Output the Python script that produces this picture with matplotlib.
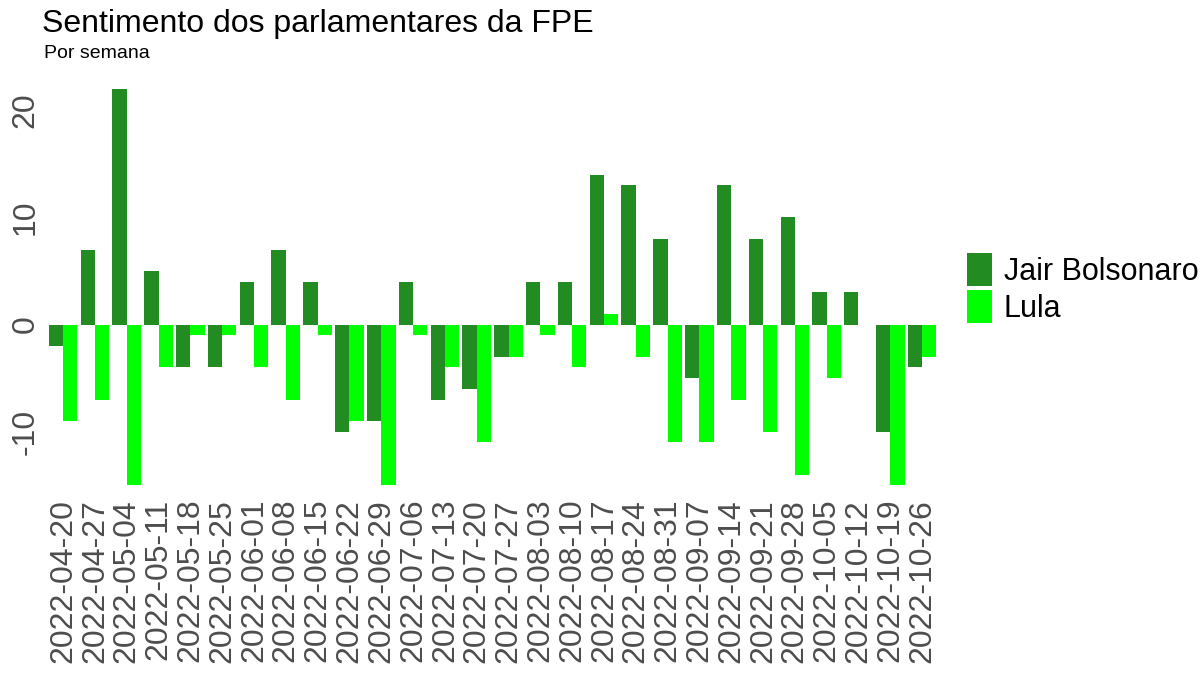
import matplotlib
matplotlib.use("Agg")
import matplotlib.pyplot as plt
import numpy as np
import pandas as pd

plt.rcParams['font.family'] = ['Liberation Sans', 'DejaVu Sans']

weeks = [str(d.date()) for d in pd.date_range("2022-04-20", "2022-10-26", freq="7D")]
bolsonaro = [-2, 7, 22, 5, -4, -4, 4, 7, 4, -10, -9, 4, -7, -6, -3, 4, 4, 14, 13, 8, -5, 13, 8, 10, 3, 3, -10, -4]
lula = [-9, -7, -15, -4, -1, -1, -4, -7, -1, -9, -15, -1, -4, -11, -3, -1, -4, 1, -3, -11, -11, -7, -10, -14, -5, 0, -15, -3]

fig = plt.figure(figsize=(12, 6.86), dpi=100)
ax = fig.add_axes([0.038, 0.28, 0.745, 0.6])
x = np.arange(len(weeks))
w = 0.45
ax.bar(x - w/2, bolsonaro, w, color="#228B22", label="Jair Bolsonaro")
ax.bar(x + w/2, lula, w, color="#00FF00", label="Lula")
ax.set_xlim(-0.55, len(weeks) - 0.45)
ax.set_ylim(-15.8, 22.6)
ax.set_yticks([-10, 0, 10, 20])
ax.set_yticklabels(["-10", "0", "10", "20"], rotation=90, va="center", fontsize=23, color="#4d4d4d")
ax.set_xticks(x)
ax.set_xticklabels(weeks, rotation=90, fontsize=23, color="#4d4d4d")
ax.tick_params(length=0)
for s in ax.spines.values():
    s.set_visible(False)
fig.text(0.035, 0.965, "Sentimento dos parlamentares da FPE", fontsize=23, va="center")
fig.text(0.037, 0.922, "Por semana", fontsize=14, va="center")
fig.legend(loc="center left", bbox_to_anchor=(0.783, 0.58), frameon=False, fontsize=22,
           handlelength=0.8, handleheight=1.3, handletextpad=0.4, labelspacing=0.1)
fig.savefig("out.png")
